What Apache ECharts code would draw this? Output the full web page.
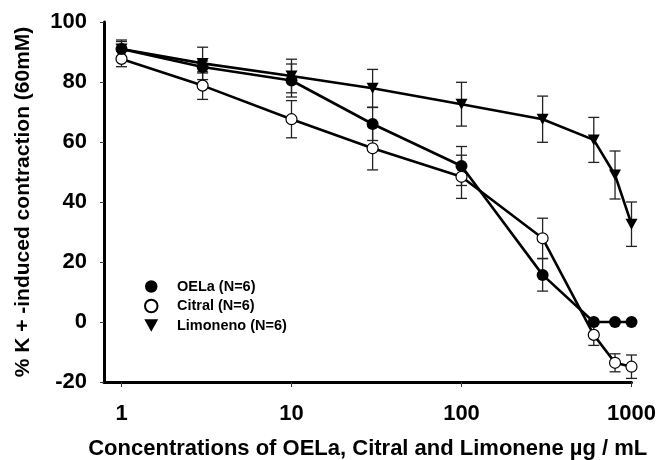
<!DOCTYPE html>
<html>
<head>
<meta charset="utf-8">
<script src="https://cdn.jsdelivr.net/npm/echarts@6/dist/echarts.min.js"></script>
<style>html,body{margin:0;padding:0;background:#fff}#c{width:657px;height:460px}</style>
</head>
<body>
<div id="c"></div>
<script>
const concentrations = [1, 3, 10, 30, 100, 300, 600, 800, 1000];
const oelaMean = [91, 85, 80.5, 66, 52, 15.7, 0, 0, 0];
const oelaErr  = [2.5, 2, 5.5, 5.5, 6.5, 5.4, 0, 0, 0];
const citralMean = [87.7, 78.8, 67.6, 57.9, 48.4, 27.9, -4.3, -13.6, -14.9];
const citralErr  = [2.6, 4.6, 6.2, 7.2, 7.2, 6.7, 3.5, 3, 3.9];
const limonenoMean = [91, 86.2, 82, 77.9, 72.6, 67.6, 60.7, 49, 32.6];
const limonenoErr  = [3, 5.4, 5.6, 6.3, 7.3, 7.7, 7.5, 8, 7.4];
const xTickLabels = [1, 10, 100, 1000];
const seriesNames = ['OELa (N=6)', 'Citral (N=6)', 'Limoneno (N=6)'];

const triDown = 'path://M0,0L10,0L5,9Z';
const FONT = 'Liberation Sans, Arial, sans-serif';

function pts(mean) { return concentrations.map((c, i) => [c, mean[i]]); }
function errs(mean, err) { return concentrations.map((c, i) => [c, mean[i] - err[i], mean[i] + err[i]]); }

function errorSeries(mean, err) {
  return {
    type: 'custom',
    z: 1,
    silent: true,
    data: errs(mean, err),
    encode: { x: 0, y: [1, 2] },
    renderItem: function (params, api) {
      const x = api.value(0);
      const lo = api.coord([x, api.value(1)]);
      const hi = api.coord([x, api.value(2)]);
      const hw = 5.5;
      const style = { stroke: '#222', lineWidth: 1.3 };
      return {
        type: 'group',
        children: [
          { type: 'line', shape: { x1: lo[0], y1: lo[1], x2: hi[0], y2: hi[1] }, style: style },
          { type: 'line', shape: { x1: lo[0] - hw, y1: lo[1], x2: lo[0] + hw, y2: lo[1] }, style: style },
          { type: 'line', shape: { x1: hi[0] - hw, y1: hi[1], x2: hi[0] + hw, y2: hi[1] }, style: style }
        ]
      };
    }
  };
}

const chart = echarts.init(document.getElementById('c'), null, { renderer: 'canvas' });
chart.setOption({
  animation: false,
  backgroundColor: '#fff',
  textStyle: { fontFamily: FONT },
  grid: { left: 104, right: 25.5, top: 22, bottom: 78, outerBoundsMode: 'none', containLabel: false },
  legend: {
    orient: 'vertical',
    left: 139,
    top: 274,
    itemWidth: 41.4,
    itemHeight: 12.5,
    itemGap: 4.5,
    symbolKeepAspect: true,
    textStyle: { fontFamily: FONT, fontWeight: 'bold', fontSize: 14.5, color: '#000', lineHeight: 14 },
    data: [
      { name: seriesNames[0], icon: 'circle' },
      { name: seriesNames[1], icon: 'circle' },
      { name: seriesNames[2], icon: triDown }
    ]
  },
  xAxis: {
    type: 'log',
    logBase: 10,
    min: 0.789,
    max: 1000,
    name: 'Concentrations of OELa, Citral and Limonene µg / mL',
    nameLocation: 'middle',
    nameGap: 56,
    nameTextStyle: { fontFamily: FONT, fontWeight: 'bold', fontSize: 22, color: '#000' },
    axisLine: { show: true, onZero: false, lineStyle: { color: '#000', width: 3 } },
    axisTick: { show: true, length: 5, lineStyle: { color: '#333', width: 1 }, customValues: xTickLabels },
    axisLabel: {
      margin: 20.5, fontFamily: FONT, fontWeight: 'bold', fontSize: 22, color: '#000',
      customValues: xTickLabels,
      formatter: function (v) { return String(Math.round(v)); }
    },
    splitLine: { show: false },
    minorTick: { show: false }
  },
  yAxis: {
    type: 'value',
    min: -20,
    max: 100,
    interval: 20,
    name: '% K + -induced contraction (60mM)',
    nameLocation: 'middle',
    nameGap: 70.5,
    nameTextStyle: { fontFamily: FONT, fontWeight: 'bold', fontSize: 21, color: '#000' },
    axisLine: { show: true, onZero: false, lineStyle: { color: '#000', width: 3 } },
    axisTick: { show: true, length: 4, lineStyle: { color: '#333', width: 1 } },
    axisLabel: { margin: 17, fontFamily: FONT, fontWeight: 'bold', fontSize: 22, color: '#000' },
    splitLine: { show: false }
  },
  series: [
    errorSeries(limonenoMean, limonenoErr),
    errorSeries(citralMean, citralErr),
    errorSeries(oelaMean, oelaErr),
    {
      name: seriesNames[2], type: 'line', z: 2, data: pts(limonenoMean),
      symbol: triDown, symbolSize: [12, 11],
      lineStyle: { color: '#000', width: 2.6 },
      itemStyle: { color: '#000', borderWidth: 0 }
    },
    {
      name: seriesNames[1], type: 'line', z: 3, data: pts(citralMean),
      symbol: 'circle', symbolSize: 11,
      lineStyle: { color: '#000', width: 2.6 },
      itemStyle: { color: '#fff', borderColor: '#000', borderWidth: 1.2 }
    },
    {
      name: seriesNames[0], type: 'line', z: 4, data: pts(oelaMean),
      symbol: 'circle', symbolSize: 12,
      lineStyle: { color: '#000', width: 2.6 },
      itemStyle: { color: '#000', borderWidth: 0 }
    }
  ]
});
</script>
</body>
</html>
